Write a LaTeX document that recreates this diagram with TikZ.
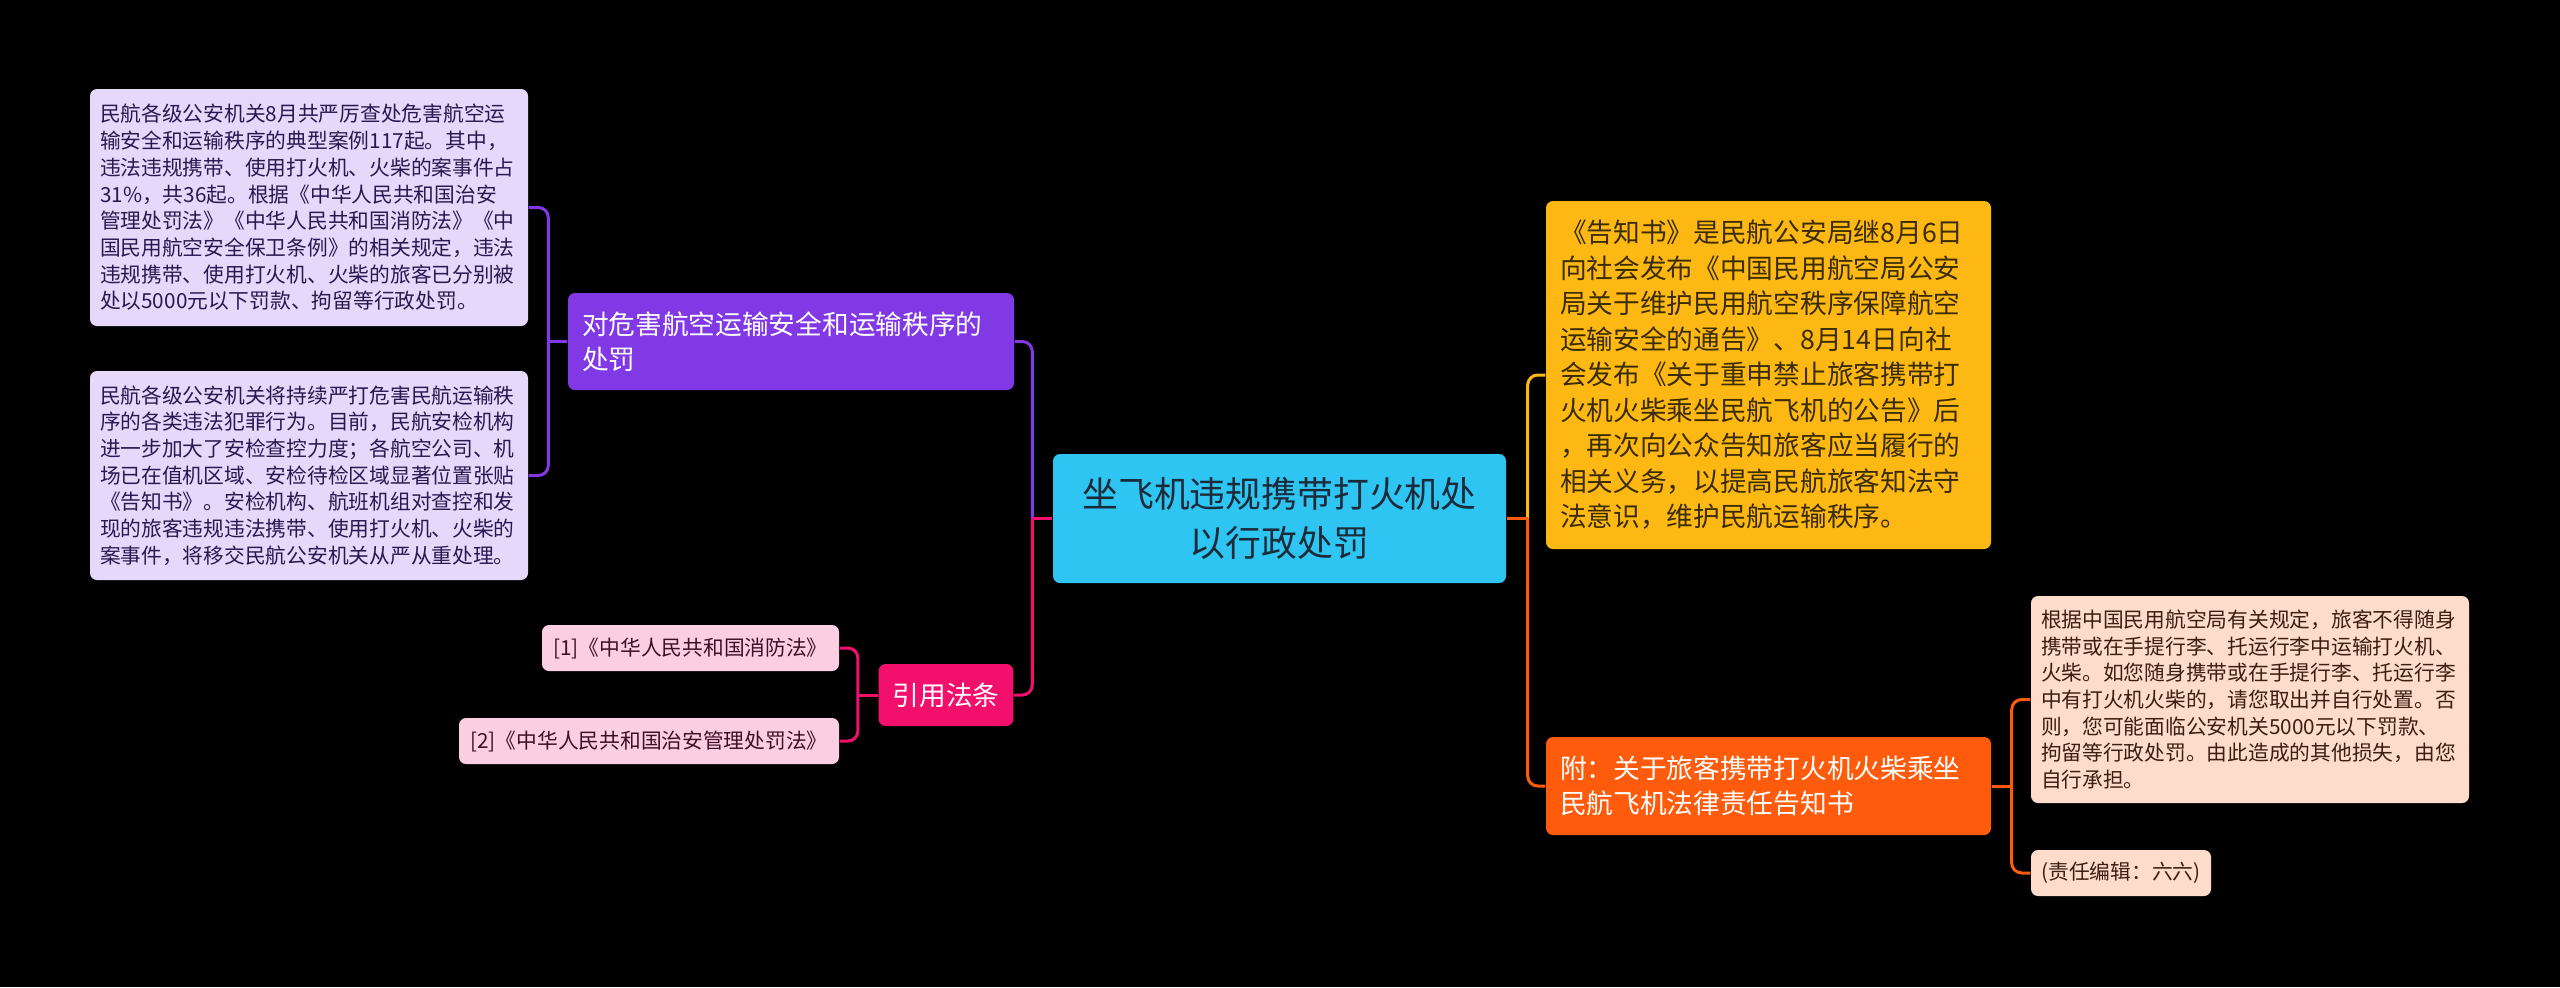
\documentclass[tikz,border=0pt]{standalone}
\usepackage{fontspec}
\setmainfont{Noto Sans CJK SC}
\usepackage{tikz}
\definecolor{rootc}{HTML}{2EC5F2}
\definecolor{roott}{HTML}{1C2B39}
\definecolor{purc}{HTML}{8139E6}
\definecolor{purl}{HTML}{E5D8FA}
\definecolor{purt}{HTML}{2A1850}
\definecolor{pinkc}{HTML}{F2106C}
\definecolor{pinkl}{HTML}{FCCEE2}
\definecolor{pinkt}{HTML}{3E0F25}
\definecolor{yelc}{HTML}{FDB813}
\definecolor{yelt}{HTML}{3A2C05}
\definecolor{orgc}{HTML}{FE5C0C}
\definecolor{orgl}{HTML}{FDDCCB}
\definecolor{orgt}{HTML}{3C1F10}

\begin{document}
\begin{tikzpicture}[
    box/.style={rounded corners=0.07cm, inner ysep=0pt, align=left},
    root/.style={box, fill=rootc, text=roott, inner xsep=0.14cm, text width=4.25cm, minimum height=1.29cm, align=center, font=\fontsize{10.2}{13.7}\selectfont},
    lvl/.style={box, inner xsep=0.14cm, minimum height=0.97cm, text=white, font=\fontsize{7.6}{10.1}\selectfont},
    leaf/.style={box, inner xsep=0.1cm, font=\fontsize{5.9}{7.6}\selectfont},
    lnk/.style={line width=0.03cm, rounded corners=0.1cm}
]
\fill[black] (0,0) rectangle (25.6,-9.87);

\node[root] (root) at (12.795,-5.185) {坐飞机违规携带打火机处\\以行政处罚};

\node[lvl, fill=purc, text width=4.18cm] (pur) at (7.91,-3.415) {对危害航空运输安全和运输秩序的\\处罚};
\node[leaf, fill=purl, text=purt, text width=4.18cm, minimum height=2.37cm] (pl1) at (3.09,-2.075) {民航各级公安机关8月共严厉查处危害航空运\\输安全和运输秩序的典型案例117起。其中，\\违法违规携带、使用打火机、火柴的案事件占\\31\%，共36起。根据《中华人民共和国治安\\管理处罚法》《中华人民共和国消防法》《中\\国民用航空安全保卫条例》的相关规定，违法\\违规携带、使用打火机、火柴的旅客已分别被\\处以5000元以下罚款、拘留等行政处罚。};
\node[leaf, fill=purl, text=purt, text width=4.18cm, minimum height=2.09cm] (pl2) at (3.09,-4.755) {民航各级公安机关将持续严打危害民航运输秩\\序的各类违法犯罪行为。目前，民航安检机构\\进一步加大了安检查控力度；各航空公司、机\\场已在值机区域、安检待检区域显著位置张贴\\《告知书》。安检机构、航班机组对查控和发\\现的旅客违规违法携带、使用打火机、火柴的\\案事件，将移交民航公安机关从严从重处理。};

\node[lvl, fill=pinkc, minimum height=0.62cm] (cite) at (9.46,-6.95) {引用法条};
\node[leaf, fill=pinkl, text=pinkt, minimum width=2.97cm, minimum height=0.46cm] (pk1) at (6.905,-6.48) {[1]《中华人民共和国消防法》};
\node[leaf, fill=pinkl, text=pinkt, minimum width=3.80cm, minimum height=0.46cm] (pk2) at (6.49,-7.41) {[2]《中华人民共和国治安管理处罚法》};

\node[lvl, fill=yelc, text=yelt, text width=4.17cm, minimum height=3.48cm] (yel) at (17.685,-3.75) {《告知书》是民航公安局继8月6日\\向社会发布《中国民用航空局公安\\局关于维护民用航空秩序保障航空\\运输安全的通告》、8月14日向社\\会发布《关于重申禁止旅客携带打\\火机火柴乘坐民航飞机的公告》后\\，再次向公众告知旅客应当履行的\\相关义务，以提高民航旅客知法守\\法意识，维护民航运输秩序。};

\node[lvl, fill=orgc, text width=4.17cm, minimum height=0.98cm] (org) at (17.685,-7.86) {附：关于旅客携带打火机火柴乘坐\\民航飞机法律责任告知书};
\node[leaf, fill=orgl, text=orgt, text width=4.18cm, minimum height=2.07cm] (ol1) at (22.5,-6.995) {根据中国民用航空局有关规定，旅客不得随身\\携带或在手提行李、托运行李中运输打火机、\\火柴。如您随身携带或在手提行李、托运行李\\中有打火机火柴的，请您取出并自行处置。否\\则，您可能面临公安机关5000元以下罚款、\\拘留等行政处罚。由此造成的其他损失，由您\\自行承担。};
\node[leaf, fill=orgl, text=orgt, minimum width=1.80cm, minimum height=0.46cm] (ol2) at (21.21,-8.73) {(责任编辑：六六)};

\coordinate (lj) at ([xshift=-0.2cm]root.west);
\coordinate (rj) at ([xshift=0.21cm]root.east);
\coordinate (pj) at ([xshift=-0.19cm]pur.west);
\coordinate (cj) at ([xshift=-0.2cm]cite.west);
\coordinate (oj) at ([xshift=0.2cm]org.east);

\draw[lnk, purc] (lj) |- (pur.east);
\draw[lnk, pinkc] (lj) |- (cite.east);
\draw[lnk, pinkc] (root.west) -- (lj);
\draw[lnk, yelc] (rj) |- (yel.west);
\draw[lnk, orgc] (rj) |- (org.west);
\draw[lnk, orgc] (root.east) -- (rj);

\draw[lnk, purc] (pur.west) -- (pj);
\draw[lnk, purc] (pj) |- (pl1.east);
\draw[lnk, purc] (pj) |- (pl2.east);
\draw[lnk, pinkc] (cite.west) -- (cj);
\draw[lnk, pinkc] (cj) |- (pk1.east);
\draw[lnk, pinkc] (cj) |- (pk2.east);
\draw[lnk, orgc] (org.east) -- (oj);
\draw[lnk, orgc] (oj) |- (ol1.west);
\draw[lnk, orgc] (oj) |- (ol2.west);
\end{tikzpicture}
\end{document}
